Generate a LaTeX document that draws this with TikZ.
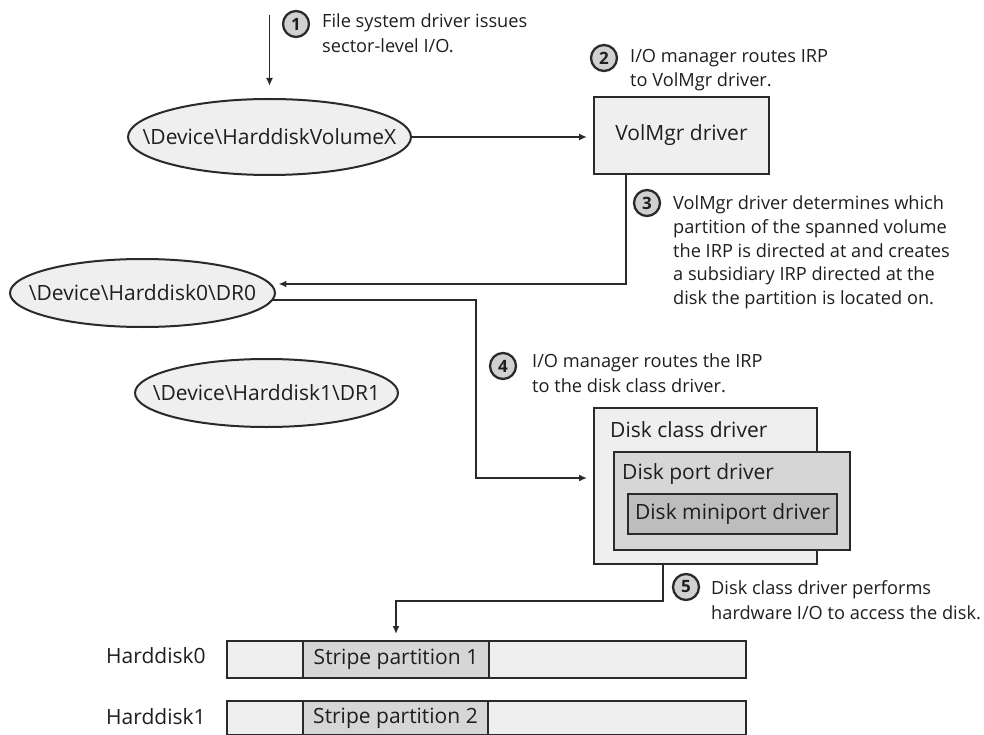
\documentclass[tikz,border=0pt]{standalone}
\usepackage{fontspec}
\setmainfont{Open Sans}
\usetikzlibrary{arrows.meta,shapes.geometric,calc}
\definecolor{ln}{HTML}{2A2A2A}
\definecolor{lt}{HTML}{EFEFEF}
\definecolor{md}{HTML}{D6D6D6}
\definecolor{dk}{HTML}{BDBDBD}
\definecolor{tx}{HTML}{1E1E1E}
\definecolor{nf}{HTML}{D0D0D0}
\begin{document}
\begin{tikzpicture}[x=1pt,y=1pt,
  conn/.style={draw=ln,line width=1.8pt},
  arr/.style={conn,-{Latex[length=8pt,width=7pt]}},
  ell/.style={ellipse,draw=ln,fill=lt,line width=2pt,inner sep=0pt},
  box/.style={rectangle,draw=ln,line width=2pt,inner sep=0pt,text=tx,font=\fontsize{21}{24}\selectfont},
  lbl/.style={text=tx,font=\fontsize{21}{24}\selectfont,inner sep=0pt},
  note/.style={text=tx,font=\fontsize{18.2}{24.5}\selectfont,align=left,inner sep=0pt,anchor=north west},
  num/.style={circle,draw=ln,fill=nf,line width=2.3pt,minimum size=26pt,inner sep=0pt,text=tx,font=\bfseries\fontsize{17}{17}\selectfont},
]
\useasboundingbox (0,0) rectangle (984,-735);

% ellipses
\node[ell,minimum width=283pt,minimum height=76pt] (vx) at (269.5,-137) {};
\node[lbl] (vxt) at (vx.center) {\textbackslash Device\textbackslash HarddiskVolumeX};
\node[ell,minimum width=265pt,minimum height=68pt] (dr0) at (142.5,-293) {};
\node[lbl] (dr0t) at (dr0.center) {\textbackslash Device\textbackslash Harddisk0\textbackslash DR0};
\node[ell,minimum width=263pt,minimum height=68pt] (dr1) at (266.5,-393) {};
\node[lbl] (dr1t) at (dr1.center) {\textbackslash Device\textbackslash Harddisk1\textbackslash DR1};

% VolMgr box
\node[box,fill=lt,minimum width=175pt,minimum height=77pt] (vm) at (681.5,-135.5) {VolMgr driver};

% driver stack
\node[box,fill=lt,minimum width=223pt,minimum height=156pt] (dc) at (705.5,-486) {};
\node[lbl,anchor=west] (dct) at (610,-430) {Disk class driver};
\node[box,fill=md,minimum width=236pt,minimum height=98pt] (dp) at (732,-501) {};
\node[lbl,anchor=west] (dpt) at (622,-474) {Disk port driver};
\node[box,fill=dk,minimum width=209pt,minimum height=40pt] (dm) at (732.5,-514) {Disk miniport driver};

% disks
\node[lbl,anchor=west] (h0l) at (106,-656) {Harddisk0};
\node[lbl,anchor=west] (h1l) at (106,-717) {Harddisk1};
\node[box,fill=lt,minimum width=76pt,minimum height=37pt,anchor=north west] (h0a) at (226,-640) {};
\node[box,fill=md,minimum width=186pt,minimum height=37pt,anchor=north west] (sp1) at (302,-640) {Stripe partition 1};
\node[box,fill=lt,minimum width=257pt,minimum height=37pt,anchor=north west] (h0c) at (488,-640) {};
\node[box,fill=lt,minimum width=76pt,minimum height=34pt,anchor=north west] (h1a) at (226,-700) {};
\node[box,fill=md,minimum width=185pt,minimum height=34pt,anchor=north west] (sp2) at (302,-700) {Stripe partition 2};
\node[box,fill=lt,minimum width=258pt,minimum height=34pt,anchor=north west] (h1c) at (487,-700) {};

% step markers and notes
\node[num] (n1) at (296,-24) {1};
\node[note] (t1) at (322,-13.5) {File system driver issues\\sector-level I/O.};
\node[num] (n2) at (604,-58) {2};
\node[note] (t2) at (630,-49) {I/O manager routes IRP\\to VolMgr driver.};
\node[num] (n3) at (647,-203) {3};
\node[note,font=\fontsize{18.2}{23.8}\selectfont] (t3) at (673,-195.5) {VolMgr driver determines which\\partition of the spanned volume\\the IRP is directed at and creates\\a subsidiary IRP directed at the\\disk the partition is located on.};
\node[num] (n4) at (503,-366) {4};
\node[note] (t4) at (532,-353.5) {I/O manager routes the IRP\\to the disk class driver.};
\node[num] (n5) at (686,-587) {5};
\node[note] (t5) at (711,-580.5) {Disk class driver performs\\hardware I/O to access the disk.};

% connectors
\coordinate (s1) at (269.5,-15);
\coordinate (c4) at (476,0);
\coordinate (c5) at (0,-601);
\draw[arr] (s1) -- ([yshift=12pt]vx.north);
\draw[arr,shorten >=6pt] (vx.east) -- (vx.east -| vm.west);
\draw[arr] ([xshift=-55.5pt]vm.south) |- ([xshift=7pt]dr0.4);
\draw[arr] (dr0.-3) -- (dr0.-3 -| c4) |- ([xshift=-6pt,yshift=8pt]dc.west);
\draw[arr] ([xshift=-42.5pt]dc.south) |- (c5 -| sp1.north) -- ([yshift=6pt]sp1.north);
\end{tikzpicture}
\end{document}
